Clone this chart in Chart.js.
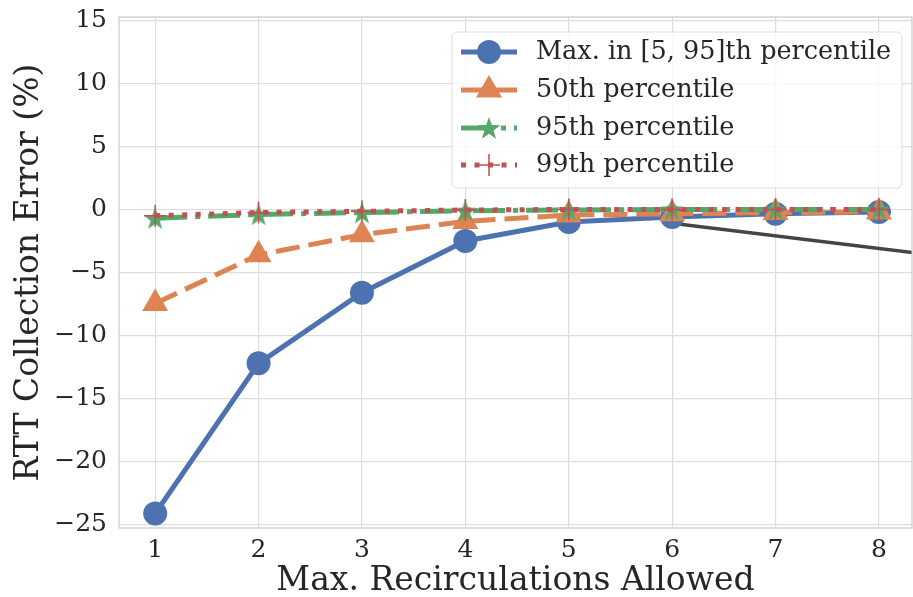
<!DOCTYPE html>
<html>
<head>
<meta charset="utf-8">
<script src="https://cdn.jsdelivr.net/npm/chart.js@4.4.1/dist/chart.umd.min.js"></script>
<style>
  html, body { margin: 0; padding: 0; background: #fff; }
  #wrap { width: 913px; height: 597px; }
</style>
</head>
<body>
<div id="wrap"><canvas id="chart"></canvas></div>
<script>
// data
const recirculations = [1, 2, 3, 4, 5, 6, 7, 8];
const maxIn5to95 = [-24.1, -12.2, -6.6, -2.5, -1.0, -0.6, -0.35, -0.2];
const p50 = [-7.45, -3.6, -2.0, -0.95, -0.45, -0.35, -0.25, -0.2];
const p95 = [-0.7, -0.4, -0.25, -0.1, -0.05, 0.0, 0.0, 0.0];
const p99 = [-0.5, -0.25, -0.15, -0.05, 0.0, 0.0, 0.0, 0.0];
const pointerX = [6, 8.5];
const pointerY = [-1.1, -3.6];
const xTicks = [1, 2, 3, 4, 5, 6, 7, 8];
const yTicks = [-25, -20, -15, -10, -5, 0, 5, 10, 15];

const seriesNames = [
  "Max. in [5, 95]th percentile",
  "50th percentile",
  "95th percentile",
  "99th percentile",
];

const BLUE = "#4c72b0";
const ORANGE = "#dd8452";
const GREEN = "#55a868";
const RED = "#c44e52";
const FONT = "'DejaVu Serif', serif";
const TEXT = "#262626";

// filled 5-point star, like matplotlib's '*' marker
function starImage(r, color) {
  const c = document.createElement("canvas");
  c.width = c.height = Math.ceil(r * 2 + 2);
  const g = c.getContext("2d");
  const cx = c.width / 2, cy = c.height / 2 + 1;
  g.beginPath();
  for (let i = 0; i < 10; i++) {
    const rad = i % 2 === 0 ? r : r * 0.4;
    const a = -Math.PI / 2 + i * Math.PI / 5;
    const px = cx + rad * Math.cos(a), py = cy + rad * Math.sin(a);
    if (i === 0) g.moveTo(px, py); else g.lineTo(px, py);
  }
  g.closePath();
  g.fillStyle = color;
  g.fill();
  return c;
}
const star = starImage(12, GREEN);

function pts(ys) {
  return recirculations.map((x, i) => ({ x: x, y: ys[i] }));
}

const datasets = [
  {
    label: seriesNames[0], data: pts(maxIn5to95), order: 4,
    borderColor: BLUE, backgroundColor: BLUE, borderWidth: 5,
    pointStyle: "circle", pointRadius: 12, pointBorderWidth: 0,
  },
  {
    label: seriesNames[1], data: pts(p50), order: 3,
    borderColor: ORANGE, backgroundColor: ORANGE, borderWidth: 5, borderDash: [24, 9],
    pointStyle: "triangle", pointRadius: 15, pointBorderWidth: 0,
  },
  {
    label: seriesNames[2], data: pts(p95), order: 2,
    borderColor: GREEN, backgroundColor: GREEN, borderWidth: 5, borderDash: [32, 8, 5, 8],
    pointStyle: star, pointRadius: 12, pointBorderWidth: 0,
  },
  {
    label: seriesNames[3], data: pts(p99), order: 1,
    borderColor: RED, backgroundColor: RED, borderWidth: 5, borderDash: [5, 8.5],
    pointStyle: "cross", pointRadius: 11, pointBorderWidth: 1.5, pointBorderColor: RED,
  },
  {
    label: "pointer", data: pointerX.map((x, i) => ({ x: x, y: pointerY[i] })), order: 5,
    borderColor: "#454545", borderWidth: 3.5, pointRadius: 0,
  },
];

// frame + legend in matplotlib style
const decor = {
  id: "decor",
  afterDraw(chart) {
    const ctx = chart.ctx;
    const a = chart.chartArea;
    ctx.save();
    ctx.strokeStyle = "#cccccc";
    ctx.lineWidth = 1.2;
    ctx.strokeRect(a.left, a.top, a.right - a.left, a.bottom - a.top);

    // legend box
    const bx = 452, by = 32, bw = 450, bh = 156, r = 5;
    ctx.beginPath();
    ctx.roundRect(bx, by, bw, bh, r);
    ctx.fillStyle = "rgba(255,255,255,0.8)";
    ctx.fill();
    ctx.strokeStyle = "#dddddd";
    ctx.lineWidth = 1;
    ctx.stroke();

    const rowY = [52, 90, 128, 165];
    const x0 = 461, x1 = 517, xm = (x0 + x1) / 2;
    for (let i = 0; i < 4; i++) {
      const ds = chart.data.datasets[i];
      const y = rowY[i];
      ctx.beginPath();
      ctx.setLineDash(ds.borderDash || []);
      ctx.strokeStyle = ds.borderColor;
      ctx.lineWidth = ds.borderWidth;
      ctx.moveTo(x0, y);
      ctx.lineTo(x1, y);
      ctx.stroke();
      ctx.setLineDash([]);
      ctx.fillStyle = ds.backgroundColor;
      ctx.strokeStyle = ds.pointBorderColor || ds.borderColor;
      ctx.lineWidth = ds.pointBorderWidth || 0;
      Chart.helpers.drawPoint(ctx, {
        pointStyle: ds.pointStyle, radius: ds.pointRadius, rotation: 0,
        borderWidth: ds.pointBorderWidth,
      }, xm, y);
      ctx.fillStyle = TEXT;
      ctx.font = "25.5px " + FONT;
      ctx.textAlign = "left";
      ctx.textBaseline = "middle";
      ctx.fillText(ds.label, 536, y);
    }
    ctx.restore();
  },
};

new Chart(document.getElementById("chart"), {
  type: "line",
  data: { datasets: datasets },
  plugins: [decor],
  options: {
    responsive: true,
    maintainAspectRatio: false,
    animation: false,
    layout: { autoPadding: false, padding: { left: 0, top: 17, right: 1, bottom: 0 } },
    plugins: { legend: { display: false }, tooltip: { enabled: false } },
    elements: { line: { tension: 0, borderCapStyle: "butt", fill: false } },
    scales: {
      x: {
        type: "linear",
        min: 0.65, max: 8.32,
        afterBuildTicks: (s) => { s.ticks = xTicks.map((v) => ({ value: v })); },
        afterFit: (s) => { s.height = 69; s.paddingLeft = 0; s.paddingRight = 0; },
        grid: { color: "#dddddd", lineWidth: 1.2, drawTicks: false },
        border: { display: false },
        ticks: { color: TEXT, padding: 7, font: { family: FONT, size: 25 }, maxRotation: 0,
          callback: (v) => String(v) },
        title: { display: true, text: "Max. Recirculations Allowed", color: TEXT,
          font: { family: FONT, size: 33, lineHeight: 0.95 }, padding: { top: 0, bottom: 0 } },
      },
      y: {
        min: -25.25, max: 15.25,
        afterBuildTicks: (s) => { s.ticks = yTicks.map((v) => ({ value: v })); },
        afterFit: (s) => { s.width = 119; s.paddingTop = 0; s.paddingBottom = 0; },
        grid: { color: "#dddddd", lineWidth: 1.2, drawTicks: false },
        border: { display: false },
        ticks: { color: TEXT, padding: 12, font: { family: FONT, size: 25 },
          callback: (v) => (v < 0 ? "\u2212" + Math.abs(v) : String(v)) },
        title: { display: true, text: "RTT Collection Error (%)", color: TEXT,
          font: { family: FONT, size: 33 }, padding: { top: 10, bottom: 0 } },
      },
    },
  },
});
</script>
</body>
</html>
